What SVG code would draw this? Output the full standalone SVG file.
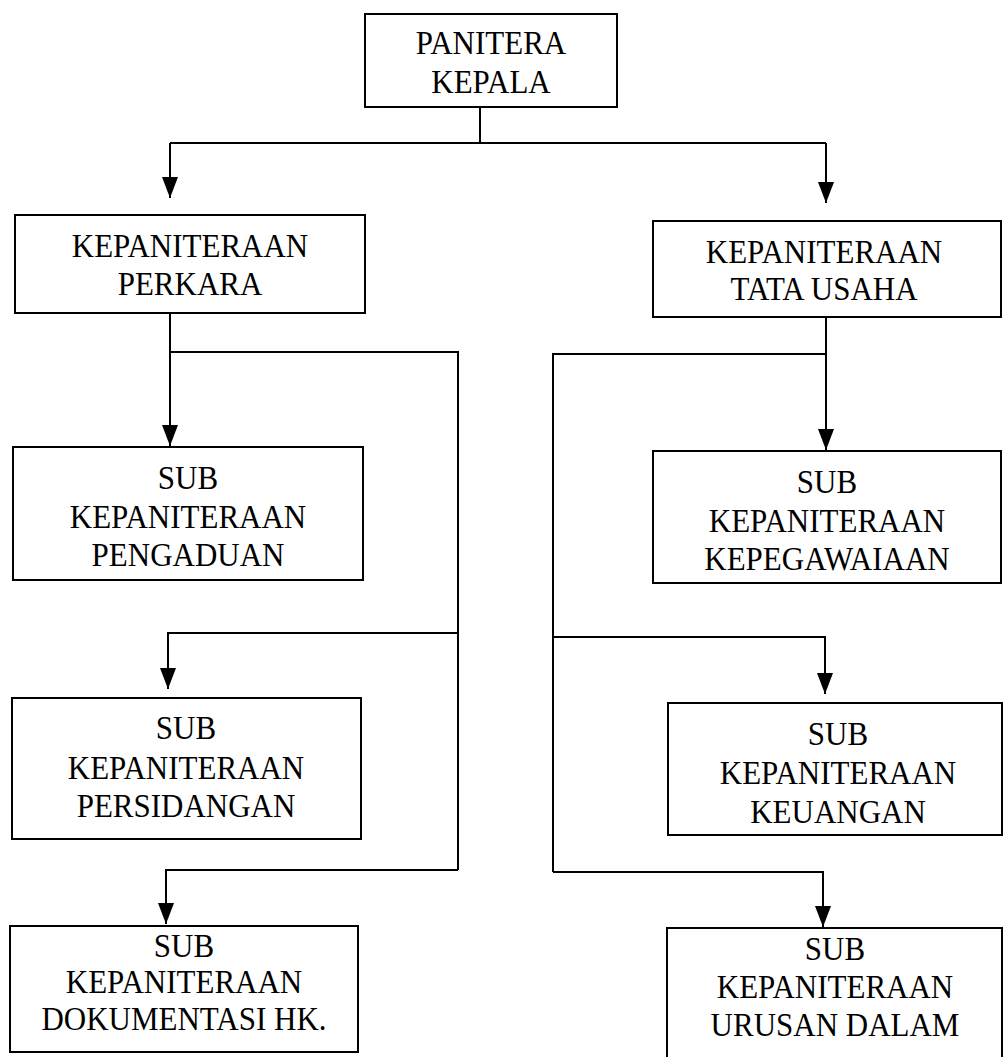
<svg xmlns="http://www.w3.org/2000/svg" width="1003" height="1057" viewBox="0 0 1003 1057">
  <style>
    .box { fill: #ffffff; stroke: #000000; stroke-width: 2; }
    .wire { fill: none; stroke: #000000; stroke-width: 2; }
    .lbl text { font-family: "Liberation Serif", "Times New Roman", serif; font-size: 31px; fill: #000000; text-anchor: middle; }
  </style>
  <defs>
    <marker id="arrow" viewBox="0 0 21 16" refX="21" refY="8" markerWidth="21" markerHeight="16" markerUnits="userSpaceOnUse" orient="auto">
      <path d="M0,0 L21,8 L0,16 Z" fill="#000000"/>
    </marker>
  </defs>
  <rect width="1003" height="1057" fill="#ffffff"/>

  <!-- connectors -->
  <g id="connectors">
    <path class="wire" d="M480,107 V143"/>
    <path class="wire" d="M170,143 H826"/>
    <path class="wire" d="M170,143 V198" marker-end="url(#arrow)"/>
    <path class="wire" d="M826,143 V203" marker-end="url(#arrow)"/>

    <!-- perkara branch -->
    <path class="wire" d="M170,313 V446" marker-end="url(#arrow)"/>
    <path class="wire" d="M170,352 H458 V870"/>
    <path class="wire" d="M458,633 H168 V689" marker-end="url(#arrow)"/>
    <path class="wire" d="M458,870 H166 V924" marker-end="url(#arrow)"/>

    <!-- tata usaha branch -->
    <path class="wire" d="M826,317 V450" marker-end="url(#arrow)"/>
    <path class="wire" d="M826,354 H553 V872"/>
    <path class="wire" d="M553,637 H825 V694" marker-end="url(#arrow)"/>
    <path class="wire" d="M553,872 H823 V927" marker-end="url(#arrow)"/>
  </g>

  <g id="panitera-kepala">
    <rect class="box" x="365" y="14" width="252" height="93"/>
    <g class="lbl" transform="translate(491 54) scale(1 1.12)">
      <text y="0">PANITERA</text>
      <text y="35">KEPALA</text>
    </g>
  </g>

  <g id="kepaniteraan-perkara">
    <rect class="box" x="15" y="215" width="350" height="98"/>
    <g class="lbl" transform="translate(190 257) scale(1 1.12)">
      <text y="0">KEPANITERAAN</text>
      <text y="34">PERKARA</text>
    </g>
  </g>

  <g id="kepaniteraan-tata-usaha">
    <rect class="box" x="653" y="221" width="348" height="96"/>
    <g class="lbl" transform="translate(824 263) scale(1 1.12)">
      <text y="0">KEPANITERAAN</text>
      <text y="33">TATA USAHA</text>
    </g>
  </g>

  <g id="sub-pengaduan">
    <rect class="box" x="13" y="447" width="350" height="133"/>
    <g class="lbl" transform="translate(188 489) scale(1 1.12)">
      <text y="0">SUB</text>
      <text y="35">KEPANITERAAN</text>
      <text y="69">PENGADUAN</text>
    </g>
  </g>

  <g id="sub-kepegawaiaan">
    <rect class="box" x="653" y="451" width="348" height="132"/>
    <g class="lbl" transform="translate(827 493) scale(1 1.12)">
      <text y="0">SUB</text>
      <text y="35">KEPANITERAAN</text>
      <text y="69">KEPEGAWAIAAN</text>
    </g>
  </g>

  <g id="sub-persidangan">
    <rect class="box" x="12" y="698" width="349" height="141"/>
    <g class="lbl" transform="translate(186 739) scale(1 1.12)">
      <text y="0">SUB</text>
      <text y="36">KEPANITERAAN</text>
      <text y="70">PERSIDANGAN</text>
    </g>
  </g>

  <g id="sub-keuangan">
    <rect class="box" x="668" y="703" width="334" height="132"/>
    <g class="lbl" transform="translate(838 745) scale(1 1.12)">
      <text y="0">SUB</text>
      <text y="35">KEPANITERAAN</text>
      <text y="70">KEUANGAN</text>
    </g>
  </g>

  <g id="sub-dokumentasi-hk">
    <rect class="box" x="10" y="926" width="348" height="126"/>
    <g class="lbl" transform="translate(184 957) scale(1 1.12)">
      <text y="0">SUB</text>
      <text y="32">KEPANITERAAN</text>
      <text y="65">DOKUMENTASI HK.</text>
    </g>
  </g>

  <g id="sub-urusan-dalam">
    <rect class="box" x="667" y="928" width="335" height="140"/>
    <g class="lbl" transform="translate(835 960) scale(1 1.12)">
      <text y="0">SUB</text>
      <text y="34">KEPANITERAAN</text>
      <text y="68">URUSAN DALAM</text>
    </g>
  </g>
</svg>
